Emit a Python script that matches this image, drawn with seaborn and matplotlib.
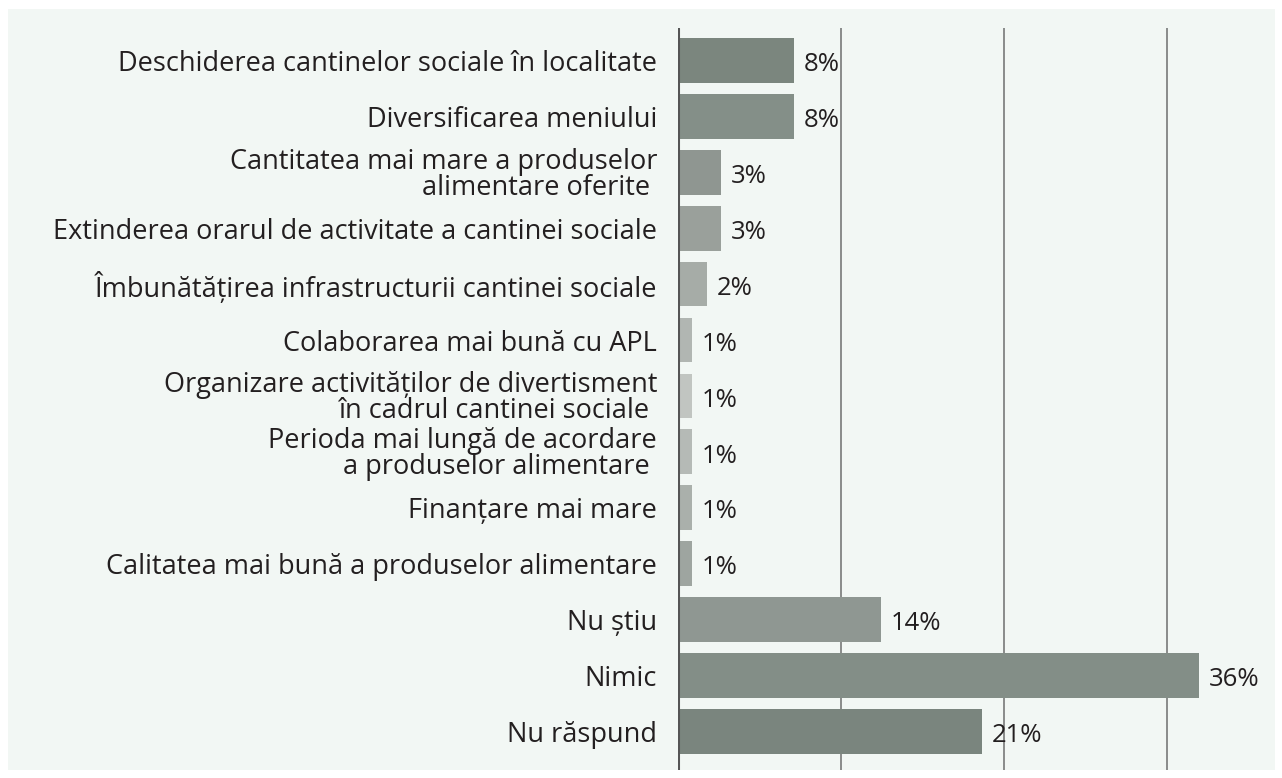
import matplotlib
matplotlib.use("Agg")
import matplotlib.pyplot as plt
import seaborn as sns
import pandas as pd
from matplotlib.patches import Rectangle

categories = [
    "Deschiderea cantinelor sociale în localitate",
    "Diversificarea meniului",
    "Cantitatea mai mare a produselor\nalimentare oferite ",
    "Extinderea orarul de activitate a cantinei sociale",
    "Îmbunătățirea infrastructurii cantinei sociale",
    "Colaborarea mai bună cu APL",
    "Organizare activităților de divertisment\nîn cadrul cantinei sociale ",
    "Perioda mai lungă de acordare\na produselor alimentare ",
    "Finanțare mai mare",
    "Calitatea mai bună a produselor alimentare",
    "Nu știu",
    "Nimic",
    "Nu răspund",
]
values = [8, 8, 3, 3, 2, 1, 1, 1, 1, 1, 14, 36, 21]
value_labels = [f"{v}%" for v in values]
bar_colors = [
    "#7B867E", "#848F88", "#8F9691", "#9AA09B", "#A6ACA7", "#B1B6B2",
    "#C1C5C1", "#B5BAB6", "#AAB0AB", "#9EA5A0", "#8F9792", "#838E87", "#7A857E",
]
grid_values = [11.27, 22.53, 33.8]

sns.set_theme(style="white")
plt.rcParams["font.family"] = ["Open Sans", "DejaVu Sans"]

text_color = "#231F20"
panel_color = "#F2F7F4"

df = pd.DataFrame({"category": categories, "value": values})

fig = plt.figure(figsize=(12.82, 7.78), dpi=100, facecolor="white")

# light panel behind the chart
bg = fig.add_axes([8 / 1282, 1 - 770 / 778, (1275 - 8) / 1282, (770 - 9) / 778], zorder=-5)
bg.add_patch(Rectangle((0, 0), 1, 1, transform=bg.transAxes, facecolor=panel_color,
                       edgecolor="none"))
bg.set_axis_off()

ax = fig.add_axes([678 / 1282, 1 - 770 / 778, (1275 - 678) / 1282, (770 - 28) / 778], zorder=1)
ax.set_facecolor("none")
ax.patch.set_alpha(0)

sns.barplot(data=df, x="value", y="category", hue="category", palette=bar_colors,
            orient="h", width=0.8, legend=False, ax=ax, saturation=1, linewidth=0)

for cont, lab in zip(ax.containers, value_labels):
    texts = ax.bar_label(cont, labels=[lab], padding=7, fontsize=18.5, color=text_color)
    for t in texts:
        # nudge value labels slightly below the bar centre
        t.set_y(t.get_position()[1] - 3)

ax.set_xlim(0, 41.26)
ax.set_ylim(12.69, -0.58)
ax.set_xticks(grid_values)
ax.set_xticklabels([])
ax.tick_params(axis="x", length=0)
ax.grid(False)
for gx in grid_values:
    ax.axvline(gx, color="#6E6E6E", lw=1.1, zorder=0)
ax.axvline(0, color="#555555", lw=2.2, zorder=3)

ax.set_yticks(range(len(categories)))
ax.set_yticklabels(categories, fontsize=19.5, color=text_color,
                   multialignment="right", linespacing=0.9)
ax.tick_params(axis="y", length=0, pad=15)
ax.set_xlabel("")
ax.set_ylabel("")
for s in ax.spines.values():
    s.set_visible(False)

fig.savefig("out.png", dpi=100, facecolor="white")
